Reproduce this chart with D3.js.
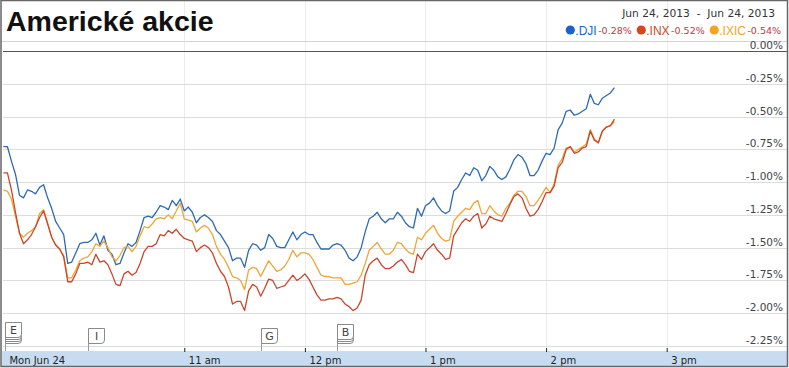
<!DOCTYPE html>
<html><head><meta charset="utf-8">
<script src="https://cdn.jsdelivr.net/npm/d3@7"></script>
<style>
html,body{margin:0;padding:0;background:#fff;}
svg{display:block;}
</style></head><body>
<svg id="chart" width="789" height="368"></svg>
<script>
const title = "Americké akcie";
const dateRange = "Jun 24, 2013  -  Jun 24, 2013";
const sessionStart = "2013-06-24T09:30:00";
const sessionEnd = "2013-06-24T16:00:00";
const sampleMinutes = 2;
const seriesNames = [".DJI", ".INX", ".IXIC"];
const seriesChanges = [-0.28, -0.52, -0.54];

const dji = [-0.73,-0.73,-0.84,-0.94,-1.10,-1.12,-1.06,-1.07,-1.09,-1.04,
-1.02,-1.12,-1.20,-1.30,-1.35,-1.40,-1.62,-1.61,-1.54,-1.47,
-1.46,-1.46,-1.44,-1.39,-1.48,-1.41,-1.52,-1.55,-1.63,-1.62,
-1.54,-1.47,-1.49,-1.46,-1.37,-1.27,-1.26,-1.27,-1.23,-1.18,
-1.19,-1.21,-1.14,-1.18,-1.13,-1.22,-1.19,-1.23,-1.31,-1.27,
-1.25,-1.27,-1.30,-1.37,-1.40,-1.45,-1.50,-1.60,-1.58,-1.58,
-1.65,-1.52,-1.47,-1.48,-1.52,-1.50,-1.40,-1.43,-1.49,-1.50,
-1.50,-1.44,-1.38,-1.44,-1.40,-1.38,-1.40,-1.40,-1.46,-1.51,
-1.51,-1.51,-1.48,-1.47,-1.48,-1.52,-1.58,-1.60,-1.57,-1.50,
-1.38,-1.28,-1.26,-1.23,-1.28,-1.31,-1.28,-1.28,-1.23,-1.26,
-1.31,-1.34,-1.35,-1.20,-1.26,-1.18,-1.16,-1.12,-1.18,-1.22,
-1.24,-1.22,-1.07,-1.04,-0.98,-0.93,-0.95,-0.89,-0.91,-0.99,
-0.95,-0.88,-0.91,-0.96,-0.98,-0.96,-0.90,-0.83,-0.79,-0.81,
-0.86,-0.95,-0.95,-0.91,-0.84,-0.78,-0.79,-0.74,-0.60,-0.55,
-0.46,-0.45,-0.49,-0.48,-0.46,-0.44,-0.33,-0.40,-0.41,-0.36,
-0.34,-0.32,-0.28];

const inx = [-0.93,-0.93,-1.06,-1.23,-1.39,-1.47,-1.44,-1.40,-1.34,-1.27,
-1.22,-1.32,-1.42,-1.48,-1.51,-1.57,-1.76,-1.76,-1.70,-1.62,
-1.62,-1.61,-1.63,-1.55,-1.61,-1.60,-1.63,-1.70,-1.78,-1.79,
-1.70,-1.68,-1.71,-1.69,-1.62,-1.53,-1.49,-1.49,-1.47,-1.40,
-1.41,-1.37,-1.39,-1.36,-1.40,-1.43,-1.44,-1.45,-1.53,-1.50,
-1.48,-1.50,-1.54,-1.62,-1.68,-1.72,-1.80,-1.93,-1.91,-1.91,
-1.98,-1.83,-1.78,-1.80,-1.87,-1.81,-1.74,-1.75,-1.81,-1.80,
-1.79,-1.75,-1.71,-1.75,-1.73,-1.70,-1.74,-1.80,-1.86,-1.90,
-1.90,-1.89,-1.89,-1.88,-1.89,-1.93,-1.95,-1.98,-1.96,-1.90,
-1.71,-1.63,-1.60,-1.58,-1.63,-1.66,-1.66,-1.64,-1.61,-1.59,
-1.63,-1.68,-1.69,-1.55,-1.59,-1.53,-1.50,-1.47,-1.52,-1.55,
-1.59,-1.58,-1.41,-1.36,-1.31,-1.28,-1.30,-1.26,-1.24,-1.35,
-1.32,-1.26,-1.28,-1.29,-1.30,-1.24,-1.17,-1.11,-1.09,-1.12,
-1.20,-1.26,-1.25,-1.21,-1.15,-1.08,-1.08,-1.03,-0.89,-0.85,
-0.75,-0.73,-0.78,-0.77,-0.74,-0.73,-0.61,-0.68,-0.70,-0.61,
-0.58,-0.57,-0.52];

const ixic = [-1.06,-1.07,-1.13,-1.26,-1.39,-1.42,-1.39,-1.37,-1.34,-1.24,
-1.21,-1.31,-1.42,-1.48,-1.51,-1.56,-1.73,-1.73,-1.67,-1.60,
-1.58,-1.57,-1.53,-1.47,-1.49,-1.45,-1.50,-1.57,-1.60,-1.56,
-1.50,-1.49,-1.53,-1.49,-1.41,-1.34,-1.35,-1.32,-1.28,-1.27,
-1.28,-1.25,-1.28,-1.22,-1.16,-1.28,-1.29,-1.30,-1.38,-1.35,
-1.33,-1.35,-1.40,-1.49,-1.55,-1.59,-1.65,-1.72,-1.73,-1.75,
-1.82,-1.67,-1.65,-1.66,-1.72,-1.66,-1.60,-1.64,-1.68,-1.67,
-1.64,-1.59,-1.52,-1.57,-1.54,-1.54,-1.55,-1.59,-1.65,-1.71,
-1.72,-1.72,-1.73,-1.73,-1.73,-1.78,-1.78,-1.77,-1.76,-1.71,
-1.62,-1.52,-1.49,-1.46,-1.51,-1.55,-1.55,-1.52,-1.46,-1.47,
-1.51,-1.54,-1.55,-1.42,-1.44,-1.39,-1.36,-1.33,-1.39,-1.43,
-1.45,-1.44,-1.30,-1.26,-1.23,-1.20,-1.21,-1.16,-1.14,-1.24,
-1.24,-1.18,-1.22,-1.25,-1.26,-1.20,-1.16,-1.10,-1.07,-1.07,
-1.11,-1.18,-1.18,-1.14,-1.09,-1.04,-1.08,-1.01,-0.87,-0.82,
-0.74,-0.73,-0.77,-0.75,-0.73,-0.71,-0.60,-0.67,-0.70,-0.61,
-0.58,-0.57,-0.54];

const yTicks = [0, -0.25, -0.5, -0.75, -1, -1.25, -1.5, -1.75, -2, -2.25];
const xTickTimes = ["09:30", "11:00", "12:00", "13:00", "14:00", "15:00"];
const xTickLabels = ["Mon Jun 24", "11 am", "12 pm", "1 pm", "2 pm", "3 pm"];
const flagLetters = ["E", "I", "G", "B"];
const flagTimes = ["09:31", "10:12", "11:38", "12:16"];
const flagCounts = [4, 1, 1, 3];

// ---------- drawing ----------
const W = 789, H = 368;
const lineColors = ["#2d6ab3", "#c8462d", "#f0a535"];
const dotColors = ["#1b63cc", "#d9441c", "#f8a31c"];
const sans = "'DejaVu Sans', Verdana, sans-serif";
const arial = "'Liberation Sans', Arial, sans-serif";

const parseFull = d3.timeParse("%Y-%m-%dT%H:%M:%S");
const dayStr = sessionStart.slice(0, 10);
const parseHM = s => parseFull(dayStr + "T" + s + ":00");
const t0 = parseFull(sessionStart);

const x = d3.scaleTime().domain([t0, parseFull(sessionEnd)]).range([3.4, 787.3]);
const y = d3.scaleLinear().domain([0, -2.25]).range([51, 346]);

const svg = d3.select("#chart");
svg.append("rect").attr("width", W).attr("height", H).attr("fill", "#fff");

// vertical hour grid
xTickTimes.slice(1).forEach(t => {
  const xx = Math.round(x(parseHM(t))) + 0.5;
  svg.append("line").attr("x1", xx).attr("x2", xx).attr("y1", 1).attr("y2", 351)
    .attr("stroke", "#ececec").attr("stroke-width", 1);
});

// header separator
svg.append("line").attr("x1", 1).attr("x2", 787).attr("y1", 41.5).attr("y2", 41.5)
  .attr("stroke", "#d4d4d4");

// horizontal grid + labels
yTicks.forEach(v => {
  const yy = Math.round(y(v)) + 0.5;
  svg.append("line").attr("x1", 3).attr("x2", 787).attr("y1", yy).attr("y2", yy)
    .attr("stroke", v === 0 ? "#555" : "#dcdcdc").attr("stroke-width", 1);
  svg.append("text").attr("x", 783).attr("y", yy - 2.5).attr("text-anchor", "end")
    .attr("font-family", sans).attr("font-size", "10.5px").attr("fill", "#444")
    .text(v.toFixed(2) + "%");
});

// axis band
svg.append("rect").attr("x", 2).attr("y", 351).attr("width", 785).attr("height", 15)
  .attr("fill", "#c7dcf1");

const axis = d3.axisBottom(x)
  .tickValues(xTickTimes.map(parseHM))
  .tickFormat((d, i) => xTickLabels[i])
  .tickSize(-3).tickPadding(0);
const ag = svg.append("g").attr("transform", "translate(0,351)").call(axis);
ag.select(".domain").remove();
ag.selectAll(".tick line").attr("stroke", "#222").attr("y2", -3).attr("y1", 1)
  .filter((d, i) => i === 0).remove();
ag.selectAll(".tick text").attr("text-anchor", "start").attr("x", (d, i) => i === 0 ? 5.5 : 4)
  .attr("y", 13).attr("dy", null)
  .attr("font-family", sans).attr("font-size", "10px").attr("fill", "#222");

// series lines
const series = [dji, ixic, inx];
const seriesColorIdx = [0, 2, 1];
const line = d3.line()
  .x((d, i) => x(d3.timeMinute.offset(t0, i * sampleMinutes)))
  .y(d => y(d));
series.forEach((s, k) => {
  svg.append("path").datum(s).attr("d", line).attr("fill", "none")
    .attr("stroke", lineColors[seriesColorIdx[k]]).attr("stroke-width", 1.3)
    .attr("stroke-linejoin", "round");
});

// event flags
const fw = 16, fh = 15, fr = 3.5, fBase = 328, fStep = 2;
flagLetters.forEach((L, i) => {
  const fx = Math.round(x(parseHM(flagTimes[i]))) + 0.5;
  svg.append("line").attr("x1", fx).attr("x2", fx).attr("y1", fBase + fh).attr("y2", 351)
    .attr("stroke", "#999");
  for (let k = 0; k < flagCounts[i]; k++) {
    const top = fBase - k * fStep + 0.5;
    svg.append("path")
      .attr("d", `M${fx},${top} h${fw} v${fh - fr} q0,${fr} ${-fr},${fr} h${-(fw - fr)} Z`)
      .attr("fill", "#fff").attr("stroke", "#8a8a8a").attr("stroke-width", 1);
  }
  const topMost = fBase - (flagCounts[i] - 1) * fStep;
  svg.append("text").attr("x", fx + fw / 2).attr("y", topMost + 11.5).attr("text-anchor", "middle")
    .attr("font-family", sans).attr("font-size", "11px").attr("fill", "#444").text(L);
});

// title
svg.append("text").attr("x", 6).attr("y", 31).attr("font-family", arial)
  .attr("font-weight", "bold").attr("font-size", "28.5px").attr("fill", "#111").text(title);

// date range
svg.append("text").attr("x", 775).attr("y", 17).attr("text-anchor", "end")
  .attr("font-family", sans).attr("font-size", "10.7px").attr("fill", "#333")
  .style("white-space", "pre").attr("xml:space", "preserve").text(dateRange);

// legend
const lg = svg.append("g");
let lx = 0;
seriesNames.forEach((n, i) => {
  lg.append("circle").attr("cx", lx + 4.5).attr("cy", 30).attr("r", 4.6).attr("fill", dotColors[i]);
  const t1 = lg.append("text").attr("x", lx + 9.5).attr("y", 34.5).attr("font-family", arial)
    .attr("font-size", "12px").attr("fill", dotColors[i]).text(n);
  const w1 = t1.node().getComputedTextLength();
  const t2 = lg.append("text").attr("x", lx + 9.5 + w1 + 1.5).attr("y", 34).attr("font-family", sans)
    .attr("font-size", "9.5px").attr("fill", "#c2364a").text(seriesChanges[i].toFixed(2) + "%");
  const w2 = t2.node().getComputedTextLength();
  lx = lx + 9.5 + w1 + 1.5 + w2 + 5;
});
lg.attr("transform", `translate(${781 - (lx - 5)},0)`);

// frame
svg.append("rect").attr("x", 1).attr("y", 0.5).attr("width", 786.5).attr("height", 366)
  .attr("fill", "none").attr("stroke", "#666").attr("stroke-width", 1.5);
</script>
</body></html>
